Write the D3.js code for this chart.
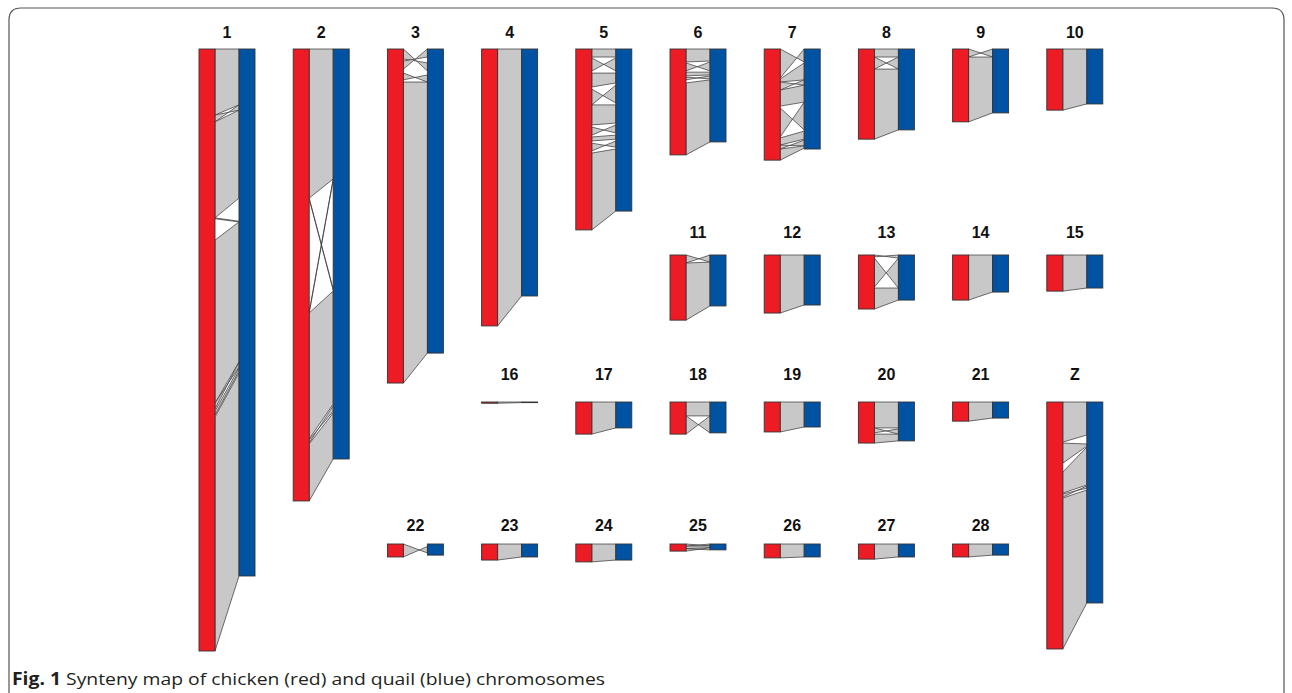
<!DOCTYPE html>
<html>
<head>
<meta charset="utf-8">
<script src="https://cdn.jsdelivr.net/npm/d3@7"></script>
<style>
  body { margin: 0; background: #fff; }
  svg { display: block; }
</style>
</head>
<body>
<div id="chart"></div>
<script>
// chromosome names, in drawing order
var chromNames = ["1", "2", "3", "4", "5", "6", "7", "8", "9", "10",
                  "11", "12", "13", "14", "15", "16", "17", "18", "19", "20",
                  "21", "22", "23", "24", "25", "26", "27", "28", "Z"];

// chromosome lengths in Mb (chicken = red, quail = blue)
var chickenMb = [195.0, 146.4, 108.2, 89.7, 58.6, 34.3, 36.0, 29.2, 23.6, 19.8,
                 21.1, 18.8, 17.5, 14.6, 11.7, 0.4, 10.4, 10.4, 9.7, 13.3,
                 6.2, 4.2, 5.2, 5.8, 2.3, 4.5, 4.9, 4.2, 80.0];
var quailMb = [170.7, 132.8, 98.5, 80.0, 52.5, 30.1, 32.4, 26.2, 20.7, 17.8,
               16.5, 16.2, 14.6, 12.0, 10.7, 0.2, 8.4, 10.0, 8.1, 12.6,
               5.2, 3.6, 4.2, 5.2, 1.9, 4.2, 4.2, 3.6, 65.1];

// synteny blocks per chromosome: [chickenStart, chickenEnd, quailStart, quailEnd]
// quailStart > quailEnd means the block is inverted
var syntenyBlocks = [
  [[0, 21.4, 0, 18.1], [21.4, 23.6, 19.8, 18.1], [23.6, 54.7, 19.8, 48.3], [54.7, 55.0, 55.8, 56.0],
   [61.9, 114.7, 56.0, 101.4], [114.7, 116.6, 103.0, 101.4], [117.3, 118.6, 103.3, 104.3], [119.2, 195.0, 105.0, 170.7]],
  [[0, 48.3, 0, 42.1], [48.3, 48.6, 77.8, 78.1], [85.2, 85.5, 42.1, 42.4], [85.5, 126.3, 78.4, 115.0],
   [126.6, 127.6, 117.3, 115.6], [127.9, 146.4, 117.9, 132.8]],
  [[0, 3.2, 7.1, 4.5], [3.9, 6.5, 2.6, 0], [7.8, 10.0, 10.7, 8.4], [10.7, 108.2, 10.7, 98.5]],
  [[0, 89.7, 0, 80.0]],
  [[0, 2.6, 0, 2.6], [2.9, 7.1, 7.1, 2.9], [7.8, 12.3, 7.8, 11.0], [13.0, 18.1, 17.5, 11.7], [18.1, 24.6, 18.1, 24.0],
   [25.3, 27.9, 27.2, 24.6], [28.5, 29.8, 27.9, 29.2], [30.5, 33.0, 31.8, 29.8], [33.7, 58.6, 32.4, 52.5]],
  [[0, 4.2, 0, 3.9], [4.5, 7.1, 7.1, 4.2], [7.5, 8.7, 7.5, 8.4], [9.1, 10.0, 9.7, 8.7], [11.0, 34.3, 10.0, 30.1]],
  [[0, 9.4, 4.2, 0], [9.7, 10.7, 4.5, 10.0], [10.7, 13.3, 11.7, 10.0], [13.3, 18.5, 11.7, 17.2], [19.1, 28.5, 26.2, 17.2],
   [28.8, 31.1, 26.6, 29.2], [31.1, 32.4, 31.4, 29.5], [32.4, 36.0, 31.4, 32.1]],
  [[0, 2.6, 0, 2.6], [2.6, 6.5, 6.5, 2.6], [6.5, 29.2, 6.5, 26.2]],
  [[0, 2.6, 2.6, 0], [2.6, 23.6, 2.6, 20.7]],
  [[0, 19.8, 0, 17.8]],
  [[0, 2.6, 2.3, 0], [2.6, 21.1, 2.3, 16.5]],
  [[0, 18.8, 0, 16.2]],
  [[0, 0.6, 1.0, 0], [1.0, 10.4, 10.7, 1.0], [10.7, 17.5, 10.7, 14.6]],
  [[0, 14.6, 0, 12.0]],
  [[0, 11.7, 0, 10.7]],
  [[0, 0.4, 0, 0.2]],
  [[0, 10.4, 0, 8.4]],
  [[0, 4.5, 0, 4.5], [4.5, 10.4, 10.0, 4.5]],
  [[0, 9.7, 0, 8.1]],
  [[0, 8.4, 0, 8.4], [8.4, 10.0, 10.4, 8.7], [10.4, 13.3, 10.4, 12.6]],
  [[0, 6.2, 0, 5.2]],
  [[0, 4.2, 2.9, 0.8]],
  [[0, 5.2, 0, 4.2]],
  [[0, 5.8, 0, 5.2]],
  [[0, 0.7, 0.6, 0], [0.7, 1.5, 0.6, 1.2], [1.5, 2.3, 1.9, 1.2]],
  [[0, 4.5, 0, 4.2]],
  [[0, 4.9, 0, 4.2]],
  [[0, 4.2, 0, 3.6]],
  [[0, 13.0, 0, 10.7], [13.3, 19.8, 13.6, 14.3], [22.7, 29.5, 14.6, 26.9], [29.8, 30.8, 27.9, 27.2], [31.1, 80.0, 28.5, 65.1]]
];

// where each chromosome sits in the grid (layout only)
var gridCol = [0, 1, 2, 3, 4, 5, 6, 7, 8, 9,
               5, 6, 7, 8, 9, 3, 4, 5, 6, 7,
               8, 2, 3, 4, 5, 6, 7, 8, 9];
var gridRow = [0, 0, 0, 0, 0, 0, 0, 0, 0, 0,
               1, 1, 1, 1, 1, 2, 2, 2, 2, 2,
               2, 3, 3, 3, 3, 3, 3, 3, 2];

var W = 1292, H = 693;
var colLeft = 199, colStep = 94.2;
var rowTop = [49, 255, 402, 544];
var labelY = [38, 238, 380, 531];
var barW = 16, gap = 24;

var red = "#ED1C24", blue = "#0052A3", grey = "#C8C8C8", edge = "#333";

var svg = d3.select("#chart").append("svg")
  .attr("width", W)
  .attr("height", H);

// figure frame with rounded top corners
svg.append("path")
  .attr("d", "M9," + (H + 5) + " L9,20 Q9,8 21,8 L1272,8 Q1284,8 1284,20 L1284," + (H + 5))
  .attr("fill", "none")
  .attr("stroke", "#555")
  .attr("stroke-width", 1.2);

// one scale for every chromosome so lengths compare
var y = d3.scaleLinear().domain([0, 195]).range([0, 602]);

chromNames.forEach(function (name, i) {
  var x0 = colLeft + gridCol[i] * colStep;
  var top = rowTop[gridRow[i]];
  var xr = x0 + barW, xb = x0 + barW + gap;
  var g = svg.append("g").attr("class", "chrom");

  // grey synteny ribbons (inverted ones cross over)
  g.selectAll("polygon")
    .data(syntenyBlocks[i])
    .enter()
    .append("polygon")
      .attr("points", function (b) {
        return [[xr, top + y(b[0])], [xb, top + y(b[2])], [xb, top + y(b[3])], [xr, top + y(b[1])]]
          .map(function (p) { return p.join(","); }).join(" ");
      })
      .attr("fill", grey)
      .attr("stroke", edge)
      .attr("stroke-width", 0.7)
      .attr("stroke-linejoin", "round");

  // chicken bar
  g.append("rect")
    .attr("x", x0)
    .attr("y", top)
    .attr("width", barW)
    .attr("height", y(chickenMb[i]))
    .attr("fill", red)
    .attr("stroke", edge)
    .attr("stroke-width", 0.9);

  // quail bar
  g.append("rect")
    .attr("x", xb)
    .attr("y", top)
    .attr("width", barW)
    .attr("height", y(quailMb[i]))
    .attr("fill", blue)
    .attr("stroke", edge)
    .attr("stroke-width", 0.9);

  g.append("text")
    .attr("x", x0 + (2 * barW + gap) / 2)
    .attr("y", labelY[gridRow[i]])
    .attr("text-anchor", "middle")
    .style("font-family", "Liberation Sans, Arial, sans-serif")
    .style("font-weight", "bold")
    .style("font-size", "16px")
    .attr("fill", "#111")
    .text(name);
});

// caption
var cap = svg.append("text")
  .attr("x", 12)
  .attr("y", 685)
  .style("font-family", "Open Sans, sans-serif")
  .style("font-size", "17px")
  .attr("fill", "#231F20");
cap.append("tspan").style("font-weight", "bold").text("Fig. 1");
cap.append("tspan").text(" Synteny map of chicken (red) and quail (blue) chromosomes");
cap.attr("textLength", 593).attr("lengthAdjust", "spacingAndGlyphs");
</script>
</body>
</html>
